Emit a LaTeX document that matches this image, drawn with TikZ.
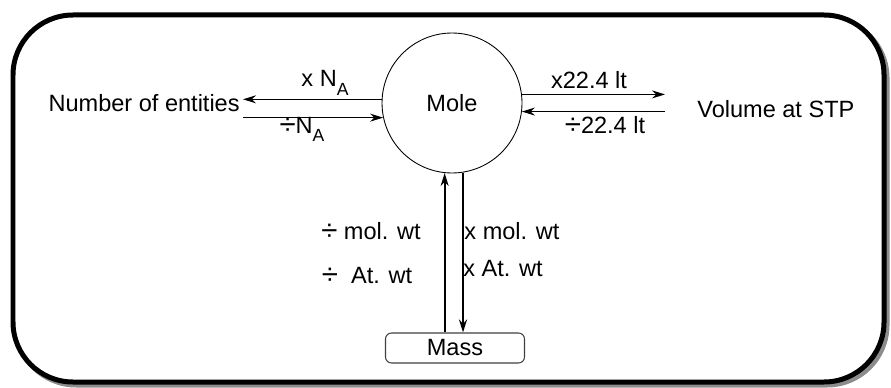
\documentclass[tikz,border=0pt]{standalone}
\usepackage{fontspec}
\setmainfont{Liberation Sans}
\usetikzlibrary{arrows.meta}
\newcommand{\NA}{N\raisebox{-0.35em}{\fontsize{10}{10}\selectfont A}}
\newcommand{\dv}{\raisebox{-0.08em}{\scalebox{1.25}{÷}}}

\begin{document}
\begin{tikzpicture}[x=0.02cm,y=-0.02cm,
  lbl/.style={anchor=base,inner sep=0pt,font=\fontsize{13.4}{16}\selectfont},
  conv/.style={-{Stealth[length=0.26cm,width=0.16cm]},line width=0.75pt}]

\useasboundingbox (0,0) rectangle (891,388);

% frame with shadow
\draw[black!45, line width=0.1cm, rounded corners=1.2cm] (16,18) rectangle (887,385);
\draw[fill=white, line width=0.1cm, rounded corners=1.2cm] (13,15) rectangle (884,382);

\node[draw,circle,minimum size=2.8cm,inner sep=0pt,line width=0.5pt,
  font=\fontsize{13.4}{16}\selectfont] (mole) at (452,103) {Mole};
\node[draw,black!75,text=black,rounded corners=0.12cm,minimum width=2.78cm,
  minimum height=0.6cm,line width=0.6pt,
  font=\fontsize{13.4}{16}\selectfont] (mass) at (455,348) {Mass};
\node[lbl,anchor=base east,inner xsep=0.06cm] (entities) at (243,112) {Number of entities};
\node[lbl,anchor=base west] (volume) at (697,118) {Volume at STP};
\coordinate (vgap) at (665,103);

% mole <-> number of entities
\draw[conv] (mole.177) -- (mole.177 -| entities.east);
\draw[conv] (mole.192 -| entities.east) -- (mole.192);
\node[lbl] at (325,87) {x \NA};
\node[lbl] at (302,133) {\dv\NA};

% mole <-> volume
\draw[conv] (mole.7) -- (mole.7 -| vgap);
\draw[conv] (mole.-7 -| vgap) -- (mole.-7);
\node[lbl] at (589,89) {x22.4 lt};
\node[lbl] at (605,133) {\dv22.4 lt};

% mole <-> mass
\draw[conv,line width=1pt] (mole.264 |- mass.north) -- (mole.264);
\draw[conv,line width=1.5pt] (mole.279) -- (mole.279 |- mass.north);
\node[lbl] at (371,239) {\dv\ mol. wt};
\node[lbl] at (367,283) {\dv\ \ At. wt};
\node[lbl] at (512,239) {x mol. wt};
\node[lbl] at (503,276) {x At. wt};

\end{tikzpicture}
\end{document}
